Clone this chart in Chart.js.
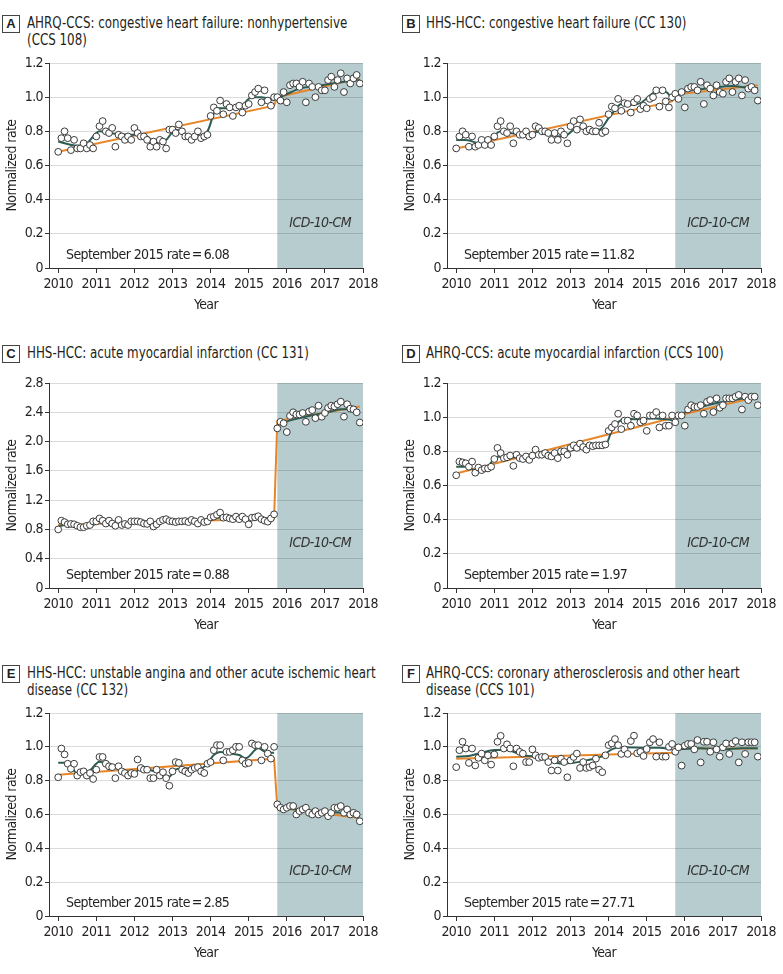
<!DOCTYPE html>
<html>
<head>
<meta charset="utf-8">
<script src="https://cdn.jsdelivr.net/npm/chart.js@4.4.1/dist/chart.umd.min.js"></script>
<style>
  html, body { margin: 0; padding: 0; background: #fff; }
  body { width: 783px; height: 974px; position: relative; overflow: hidden;
         font-family: "DejaVu Sans Condensed", "Liberation Sans Narrow", Roboto, sans-serif; color: #231f20; }
  .title { position: absolute; font-size: 15px; line-height: 17px; white-space: nowrap;
           transform: scaleX(0.88); transform-origin: left top; }
  .letter { position: absolute; width: 16px; height: 16px; border: 1px solid #444; font-weight: bold;
            font-size: 13px; line-height: 16px; text-align: center; font-family: "Liberation Sans", Arial, sans-serif; }
  canvas { position: absolute; }
</style>
</head>
<body>
<div class="letter" style="left:2px;top:15px">A</div>
<div class="title" style="left:27px;top:15px">AHRQ-CCS: congestive heart failure: nonhypertensive<br>(CCS 108)</div>
<div class="letter" style="left:402px;top:15px">B</div>
<div class="title" style="left:426px;top:15px">HHS-HCC: congestive heart failure (CC 130)</div>
<div class="letter" style="left:2px;top:345px">C</div>
<div class="title" style="left:27px;top:345px">HHS-HCC: acute myocardial infarction (CC 131)</div>
<div class="letter" style="left:402px;top:345px">D</div>
<div class="title" style="left:426px;top:345px">AHRQ-CCS: acute myocardial infarction (CCS 100)</div>
<div class="letter" style="left:2px;top:665px">E</div>
<div class="title" style="left:27px;top:665px">HHS-HCC: unstable angina and other acute ischemic heart<br>disease (CC 132)</div>
<div class="letter" style="left:402px;top:665px">F</div>
<div class="title" style="left:426px;top:665px">AHRQ-CCS: coronary atherosclerosis and other heart<br>disease (CCS 101)</div>

<canvas id="chartA"></canvas>
<canvas id="chartB"></canvas>
<canvas id="chartC"></canvas>
<canvas id="chartD"></canvas>
<canvas id="chartE"></canvas>
<canvas id="chartF"></canvas>

<script>
// Tick labels
const yearLabels = ['2010', '2011', '2012', '2013', '2014', '2015', '2016', '2017', '2018'];
const yTicks12 = ['0', '0.2', '0.4', '0.6', '0.8', '1.0', '1.2'];
const yTicks28 = ['0', '0.4', '0.8', '1.2', '1.6', '2.0', '2.4', '2.8'];

// x is months since January 2010; ICD-10-CM starts October 2015
const icdStartMonth = 69;
const lastTickMonth = 96;
const trendMonths = [0, 68, 69, 95];

// A - AHRQ-CCS congestive heart failure
const rateA = [
  0.68, 0.76, 0.80, 0.76, 0.69, 0.75, 0.70, 0.70, 0.73, 0.70, 0.72, 0.70,
  0.77, 0.83, 0.86, 0.80, 0.79, 0.82, 0.71, 0.78, 0.77, 0.75, 0.77, 0.75,
  0.82, 0.79, 0.77, 0.77, 0.75, 0.71, 0.74, 0.71, 0.75, 0.74, 0.70, 0.81,
  0.81, 0.79, 0.84, 0.80, 0.77, 0.77, 0.75, 0.77, 0.80, 0.76, 0.77, 0.78,
  0.89, 0.94, 0.92, 0.98, 0.90, 0.96, 0.94, 0.89, 0.94, 0.95, 0.91, 0.95,
  0.96, 1.01, 1.03, 1.05, 0.97, 1.04, 0.98, 0.95, 1.00, 1.00, 0.98, 1.03,
  0.97, 1.07, 1.08, 1.08, 1.06, 1.09, 0.97, 1.08, 1.06, 1.00, 1.06, 1.04,
  1.04, 1.10, 1.12, 1.06, 1.10, 1.14, 1.03, 1.11, 1.08, 1.11, 1.13, 1.08
];
const smoothPreMonthsA = [0, 6, 9, 13, 16, 22, 27, 31, 34, 37, 41, 44, 47, 50, 53, 57, 61, 64, 68];
const smoothPreA = [0.74, 0.715, 0.73, 0.80, 0.79, 0.78, 0.78, 0.73, 0.75, 0.81, 0.78, 0.77, 0.80, 0.935, 0.935, 0.94, 1.0, 1.0, 0.98];
const smoothPostMonthsA = [69, 71, 76, 83, 90, 95];
const smoothPostA = [1.0, 1.01, 1.05, 1.07, 1.09, 1.10];
const trendA = [0.68, 0.95, 1.00, 1.11];

// B - HHS-HCC congestive heart failure
const rateB = [
  0.70, 0.77, 0.80, 0.78, 0.71, 0.77, 0.71, 0.72, 0.75, 0.72, 0.75, 0.72,
  0.77, 0.83, 0.86, 0.80, 0.79, 0.83, 0.73, 0.80, 0.78, 0.78, 0.80, 0.77,
  0.78, 0.83, 0.82, 0.80, 0.80, 0.79, 0.75, 0.79, 0.75, 0.80, 0.78, 0.73,
  0.83, 0.86, 0.81, 0.87, 0.83, 0.80, 0.81, 0.80, 0.80, 0.85, 0.79, 0.80,
  0.90, 0.945, 0.935, 0.99, 0.92, 0.965, 0.96, 0.91, 0.97, 0.99, 0.93, 0.95,
  0.935, 0.99, 1.00, 1.04, 0.945, 1.04, 0.975, 0.94, 1.00, 1.02, 0.99, 1.03,
  0.94, 1.05, 1.06, 1.06, 1.04, 1.09, 0.96, 1.07, 1.05, 1.01, 1.07, 1.03,
  1.02, 1.09, 1.11, 1.03, 1.09, 1.11, 1.01, 1.10, 1.05, 1.06, 1.04, 0.98
];
const smoothPreMonthsB = [0, 3, 8, 10, 14, 17, 21, 24, 27, 32, 35, 38, 42, 45, 48, 50, 52, 55, 58, 63, 66, 68];
const smoothPreB = [0.75, 0.75, 0.727, 0.735, 0.80, 0.79, 0.78, 0.79, 0.80, 0.77, 0.78, 0.82, 0.81, 0.81, 0.877, 0.925, 0.96, 0.955, 0.965, 1.03, 1.03, 0.99];
const smoothPostMonthsB = [69, 74, 80, 87, 91, 95];
const smoothPostB = [1.02, 1.04, 1.053, 1.066, 1.058, 1.053];
const trendB = [0.70, 0.975, 1.015, 1.07];

// C - HHS-HCC acute myocardial infarction
const rateC = [
  0.80, 0.92, 0.90, 0.87, 0.875, 0.87, 0.85, 0.83, 0.83, 0.85, 0.86, 0.91,
  0.91, 0.95, 0.92, 0.88, 0.92, 0.88, 0.85, 0.93, 0.86, 0.875, 0.86, 0.91,
  0.91, 0.91, 0.90, 0.88, 0.875, 0.91, 0.84, 0.87, 0.91, 0.93, 0.94, 0.915,
  0.91, 0.90, 0.91, 0.91, 0.915, 0.90, 0.93, 0.91, 0.88, 0.93, 0.90, 0.91,
  0.965, 0.975, 1.0, 1.03, 0.96, 0.965, 0.95, 0.94, 0.975, 0.94, 0.975, 0.94,
  0.87, 0.96, 0.965, 0.98, 0.94, 0.92, 0.906, 0.95, 1.006, 2.18, 2.27, 2.25,
  2.13, 2.35, 2.40, 2.37, 2.37, 2.39, 2.27, 2.41, 2.43, 2.32, 2.49, 2.34,
  2.39, 2.46, 2.49, 2.48, 2.51, 2.545, 2.34, 2.51, 2.45, 2.44, 2.40, 2.26
];
const smoothPreMonthsC = [0, 4, 7, 11, 14, 18, 22, 26, 31, 36, 42, 47, 52, 56, 62, 68];
const smoothPreC = [0.84, 0.87, 0.85, 0.86, 0.92, 0.89, 0.88, 0.90, 0.89, 0.91, 0.91, 0.92, 0.97, 0.96, 0.94, 0.96];
const smoothPostMonthsC = [69, 74, 80, 86, 89, 92, 95];
const smoothPostC = [2.24, 2.30, 2.36, 2.41, 2.44, 2.44, 2.39];
const trendC = [0.86, 0.95, 2.28, 2.48];

// D - AHRQ-CCS acute myocardial infarction
const rateD = [
  0.66, 0.74, 0.735, 0.73, 0.71, 0.74, 0.675, 0.705, 0.69, 0.70, 0.70, 0.71,
  0.755, 0.82, 0.79, 0.76, 0.765, 0.775, 0.715, 0.78, 0.76, 0.755, 0.77, 0.75,
  0.775, 0.81, 0.78, 0.78, 0.79, 0.775, 0.77, 0.79, 0.76, 0.80, 0.80, 0.78,
  0.82, 0.835, 0.82, 0.845, 0.825, 0.81, 0.835, 0.83, 0.835, 0.835, 0.835, 0.84,
  0.92, 0.94, 0.96, 1.02, 0.93, 0.98, 0.98, 0.95, 1.02, 1.01, 0.97, 0.98,
  0.92, 1.01, 1.01, 1.03, 0.94, 1.01, 0.95, 0.95, 1.01, 0.97, 1.01, 1.01,
  0.95, 1.045, 1.07, 1.06, 1.06, 1.07, 1.02, 1.09, 1.10, 1.03, 1.11, 1.055,
  1.07, 1.11, 1.11, 1.11, 1.12, 1.13, 1.045, 1.12, 1.10, 1.12, 1.12, 1.07
];
const smoothPreMonthsD = [0, 3, 6, 9, 13, 16, 20, 22, 26, 31, 35, 39, 43, 47, 49, 51, 53, 57, 62, 66, 68];
const smoothPreD = [0.71, 0.71, 0.69, 0.696, 0.768, 0.768, 0.762, 0.768, 0.78, 0.778, 0.80, 0.817, 0.83, 0.836, 0.92, 0.97, 0.99, 0.988, 0.992, 0.988, 0.982];
const smoothPostMonthsD = [69, 74, 80, 87, 91, 95];
const smoothPostD = [1.008, 1.04, 1.074, 1.099, 1.109, 1.109];
const trendD = [0.67, 0.995, 1.005, 1.12];

// E - HHS-HCC unstable angina
const rateE = [
  0.82, 0.99, 0.955, 0.90, 0.87, 0.90, 0.83, 0.85, 0.855, 0.83, 0.845, 0.81,
  0.865, 0.94, 0.94, 0.90, 0.885, 0.88, 0.815, 0.885, 0.855, 0.845, 0.83, 0.845,
  0.84, 0.925, 0.875, 0.865, 0.865, 0.815, 0.815, 0.865, 0.83, 0.85, 0.815, 0.77,
  0.855, 0.91, 0.905, 0.865, 0.855, 0.845, 0.865, 0.875, 0.88, 0.855, 0.845, 0.90,
  0.91, 0.98, 1.01, 1.01, 0.92, 0.97, 0.97, 0.98, 1.0, 1.0, 0.92, 0.90,
  0.905, 1.02, 1.01, 1.01, 0.92, 1.0, 0.96, 0.93, 1.0, 0.66, 0.64, 0.63,
  0.64, 0.65, 0.65, 0.60, 0.62, 0.63, 0.64, 0.61, 0.60, 0.62, 0.60, 0.61,
  0.62, 0.59, 0.61, 0.64, 0.64, 0.65, 0.61, 0.63, 0.60, 0.61, 0.60, 0.56
];
const smoothPreMonthsE = [0, 3, 6, 9.5, 13, 16, 20, 24, 26, 29, 32, 35, 37, 40, 45, 47, 49, 51, 54, 57, 59, 63, 66, 68];
const smoothPreE = [0.906, 0.906, 0.843, 0.853, 0.912, 0.889, 0.863, 0.843, 0.879, 0.863, 0.843, 0.824, 0.867, 0.873, 0.873, 0.902, 0.952, 0.97, 0.96, 0.952, 0.932, 0.991, 0.965, 0.965];
const smoothPostMonthsE = [69, 75, 82, 89, 95];
const smoothPostE = [0.64, 0.63, 0.62, 0.61, 0.60];
const trendE = [0.835, 0.93, 0.64, 0.58];

// F - AHRQ-CCS coronary atherosclerosis
const rateF = [
  0.88, 0.98, 1.03, 0.99, 0.905, 0.99, 0.89, 0.935, 0.96, 0.92, 0.95, 0.895,
  0.955, 1.03, 1.065, 0.99, 1.015, 0.99, 0.885, 0.99, 0.97, 0.96, 0.91, 0.91,
  0.985, 0.95, 0.935, 0.94, 0.94, 0.91, 0.86, 0.92, 0.86, 0.93, 0.91, 0.82,
  0.92, 0.94, 0.96, 0.875, 0.91, 0.875, 0.88, 0.89, 0.93, 0.865, 0.85, 0.95,
  1.01, 1.02, 1.046, 1.01, 0.958, 0.985, 0.958, 1.034, 1.066, 0.962, 0.971, 0.946,
  0.987, 1.027, 1.046, 0.942, 1.027, 0.942, 0.942, 1.0, 1.017, 0.971, 0.997, 0.889,
  1.007, 1.017, 1.017, 0.985, 1.04, 0.908, 1.03, 1.03, 0.971, 1.027, 0.985, 0.942,
  0.997, 1.02, 0.958, 1.02, 1.034, 0.908, 1.027, 0.958, 1.027, 1.027, 1.027, 0.942
];
const smoothPreMonthsF = [0, 4, 8, 12, 16, 20.5, 24.7, 29, 33, 37, 41.5, 45.7, 49, 53, 60, 64, 68];
const smoothPreF = [0.942, 0.946, 0.965, 0.981, 0.981, 0.952, 0.942, 0.922, 0.902, 0.906, 0.922, 0.942, 0.985, 0.997, 0.995, 0.995, 0.985];
const smoothPostMonthsF = [69, 77, 84, 90, 95];
const smoothPostF = [0.985, 0.991, 0.985, 0.991, 0.991];
const trendF = [0.93, 0.965, 0.99, 0.99];

const FONT = '"DejaVu Sans Condensed", "Liberation Sans Narrow", Roboto, sans-serif';
const TEXT = '#231f20';
const SHADE = '#b6cccf';
const DARK = '#2b5c54';
const ORANGE = '#e8872a';

Chart.defaults.font.family = FONT;
Chart.defaults.font.size = 14;
Chart.defaults.color = TEXT;

function pairs(xs, ys) {
  return ys.map(function(y, i) { return { x: xs[i], y: y }; });
}

// background band + annotations
const icdPlugin = {
  id: 'icd',
  beforeDraw: function(chart, args, opts) {
    var ctx = chart.ctx, area = chart.chartArea, x = chart.scales.x;
    // tighter letter spacing to mimic the condensed face of the original
    ctx.letterSpacing = '-0.6px';
    var x0 = x.getPixelForValue(icdStartMonth), x1 = x.getPixelForValue(lastTickMonth);
    ctx.save();
    ctx.fillStyle = SHADE;
    ctx.fillRect(x0, area.top, x1 - x0, area.bottom - area.top);
    ctx.restore();
  },
  beforeDatasetsDraw: function(chart, args, opts) {
    var ctx = chart.ctx, area = chart.chartArea, x = chart.scales.x;
    var x0 = x.getPixelForValue(icdStartMonth), x1 = x.getPixelForValue(lastTickMonth);
    ctx.save();
    ctx.fillStyle = '#333';
    ctx.textBaseline = 'middle';
    ctx.textAlign = 'center';
    ctx.font = 'italic 14px ' + FONT;
    ctx.fillText('ICD-10-CM', (x0 + x1) / 2, area.bottom - 45);
    ctx.textAlign = 'left';
    ctx.fillStyle = TEXT;
    ctx.font = '14px ' + FONT;
    ctx.fillText(opts.note, area.left + 17, area.bottom - 13);
    ctx.restore();
  }
};

const panels = [
  { id: 'chartA', left: 0,   top: 51,  plotH: 205, rate: rateA, preM: smoothPreMonthsA, pre: smoothPreA, postM: smoothPostMonthsA, post: smoothPostA, trend: trendA, yMax: 1.2, yStep: 0.2, yLabels: yTicks12, note: 'September 2015 rate\u2009=\u20096.08' },
  { id: 'chartB', left: 398, top: 51,  plotH: 205, rate: rateB, preM: smoothPreMonthsB, pre: smoothPreB, postM: smoothPostMonthsB, post: smoothPostB, trend: trendB, yMax: 1.2, yStep: 0.2, yLabels: yTicks12, note: 'September 2015 rate\u2009=\u200911.82' },
  { id: 'chartC', left: 0,   top: 371, plotH: 205, rate: rateC, preM: smoothPreMonthsC, pre: smoothPreC, postM: smoothPostMonthsC, post: smoothPostC, trend: trendC, yMax: 2.8, yStep: 0.4, yLabels: yTicks28, note: 'September 2015 rate\u2009=\u20090.88' },
  { id: 'chartD', left: 398, top: 371, plotH: 205, rate: rateD, preM: smoothPreMonthsD, pre: smoothPreD, postM: smoothPostMonthsD, post: smoothPostD, trend: trendD, yMax: 1.2, yStep: 0.2, yLabels: yTicks12, note: 'September 2015 rate\u2009=\u20091.97' },
  { id: 'chartE', left: 0,   top: 701, plotH: 203, rate: rateE, preM: smoothPreMonthsE, pre: smoothPreE, postM: smoothPostMonthsE, post: smoothPostE, trend: trendE, yMax: 1.2, yStep: 0.2, yLabels: yTicks12, note: 'September 2015 rate\u2009=\u20092.85' },
  { id: 'chartF', left: 398, top: 701, plotH: 203, rate: rateF, preM: smoothPreMonthsF, pre: smoothPreF, postM: smoothPostMonthsF, post: smoothPostF, trend: trendF, yMax: 1.2, yStep: 0.2, yLabels: yTicks12, note: 'September 2015 rate\u2009=\u200927.71' }
];

panels.forEach(function(p) {
  var canvas = document.getElementById(p.id);
  var w = 385, h = 12 + p.plotH + 46;
  canvas.width = w; canvas.height = h;
  canvas.style.left = p.left + 'px';
  canvas.style.top = p.top + 'px';
  canvas.style.width = w + 'px';
  canvas.style.height = h + 'px';

  new Chart(canvas.getContext('2d'), {
    type: 'scatter',
    data: {
      datasets: [{
        data: p.rate.map(function(v, i) { return { x: i, y: v }; }),
        pointRadius: 3.4,
        pointBorderWidth: 1,
        pointBorderColor: '#3a3a3a',
        pointBackgroundColor: '#fff',
        showLine: false
      }, {
        data: pairs(p.preM, p.pre),
        showLine: true, pointRadius: 0, borderColor: DARK, borderWidth: 2,
        cubicInterpolationMode: 'monotone'
      }, {
        data: pairs(p.postM, p.post),
        showLine: true, pointRadius: 0, borderColor: DARK, borderWidth: 2,
        cubicInterpolationMode: 'monotone'
      }, {
        data: pairs(trendMonths, p.trend),
        showLine: true, pointRadius: 0, borderColor: ORANGE, borderWidth: 2, tension: 0
      }]
    },
    options: {
      responsive: false,
      animation: false,
      devicePixelRatio: 1,
      events: [],
      layout: { padding: { top: 12, right: 22, left: 0, bottom: 0 } },
      plugins: {
        legend: { display: false },
        tooltip: { enabled: false },
        icd: { note: p.note }
      },
      scales: {
        x: {
          type: 'linear', min: -2.9, max: lastTickMonth,
          afterFit: function(s) { s.height = 46; },
          ticks: {
            stepSize: 12, includeBounds: false, autoSkip: false, maxRotation: 0, padding: 3,
            callback: function(v) { return yearLabels[Math.round(v / 12)]; }
          },
          grid: { drawOnChartArea: false, drawTicks: true, tickLength: 5, tickColor: '#333' },
          border: { color: '#333', width: 1 },
          title: { display: true, text: 'Year', padding: 0 }
        },
        y: {
          min: 0, max: p.yMax,
          afterFit: function(s) { s.width = 49; },
          ticks: {
            stepSize: p.yStep, padding: 2,
            callback: function(v) { return p.yLabels[Math.round(v / p.yStep)]; }
          },
          grid: { color: 'rgba(0,0,0,0.14)', tickLength: 4, tickColor: '#333' },
          border: { color: '#333', width: 1 },
          title: { display: true, text: 'Normalized rate', padding: { top: 4, bottom: 0 } }
        }
      }
    },
    plugins: [icdPlugin]
  });
});
</script>
</body>
</html>
